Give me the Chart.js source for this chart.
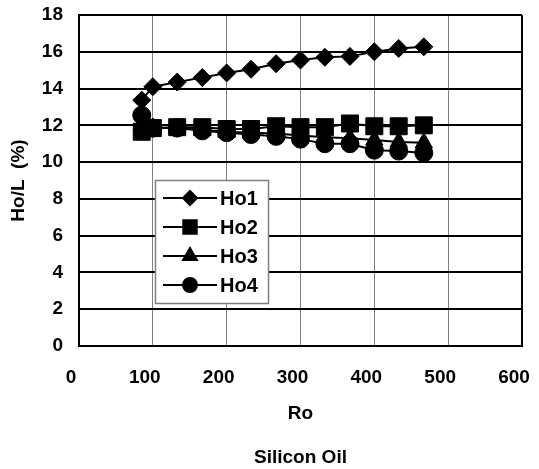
<!DOCTYPE html>
<html>
<head>
<meta charset="utf-8">
<script src="https://cdn.jsdelivr.net/npm/chart.js@4"></script>
<style>
  html, body { margin: 0; padding: 0; background: #fff; }
  canvas { display: block; }
</style>
</head>
<body>
<canvas id="c" width="539" height="469"></canvas>
<script>
// ---- data ----
const xValues = [85, 100, 133, 167, 200, 233, 267, 300, 333, 367, 400, 433, 467];
const ho1 = [13.37, 14.1, 14.35, 14.6, 14.85, 15.05, 15.35, 15.55, 15.7, 15.75, 16.0, 16.18, 16.27];
const ho2 = [11.65, 11.85, 11.9, 11.9, 11.8, 11.8, 11.95, 11.9, 11.9, 12.1, 11.95, 11.95, 12.0];
const ho3 = [12.0, 11.85, 11.85, 11.75, 11.65, 11.6, 11.55, 11.45, 11.35, 11.3, 11.2, 11.1, 11.05];
const ho4 = [12.55, 11.85, 11.85, 11.7, 11.6, 11.5, 11.4, 11.25, 11.0, 11.0, 10.65, 10.6, 10.5];
const seriesNames = ['Ho1', 'Ho2', 'Ho3', 'Ho4'];
const xTickValues = [0, 100, 200, 300, 400, 500, 600];
const yTickValues = [0, 2, 4, 6, 8, 10, 12, 14, 16, 18];
const xTitle = 'Ro';
const yTitle = 'Ho/L  (%)';
const chartTitle = 'Silicon Oil';

const FONT = "'Liberation Sans', Arial, sans-serif";
const styles = [
  { pointStyle: 'rectRot', radius: 9, legendRadius: 7 },
  { pointStyle: 'rect', radius: 12, legendRadius: 9.5 },
  { pointStyle: 'triangle', radius: 10, legendRadius: 8 },
  { pointStyle: 'circle', radius: 9, legendRadius: 7 }
];
const seriesValues = [ho1, ho2, ho3, ho4];

const datasets = seriesValues.map((vals, i) => ({
  label: seriesNames[i],
  data: xValues.map((x, j) => ({ x: x, y: vals[j] })),
  borderColor: '#000',
  backgroundColor: '#000',
  borderWidth: 2,
  pointStyle: styles[i].pointStyle,
  pointRadius: styles[i].radius,
  pointBorderWidth: 1,
  pointBorderColor: '#000',
  pointBackgroundColor: '#000',
  tension: 0,
  order: 3 - i
}));

const legendPlugin = {
  id: 'insideLegend',
  afterDraw(chart) {
    const ctx = chart.ctx;
    ctx.save();
    ctx.fillStyle = '#fff';
    ctx.fillRect(155.5, 180.5, 113, 123);
    ctx.strokeStyle = '#808080';
    ctx.lineWidth = 1.5;
    ctx.strokeRect(155.5, 180.5, 113, 123);
    chart.data.datasets.forEach((ds, i) => {
      const y = 198 + 29 * i;
      ctx.strokeStyle = '#000';
      ctx.lineWidth = 2;
      ctx.beginPath();
      ctx.moveTo(163, y);
      ctx.lineTo(217, y);
      ctx.stroke();
      ctx.fillStyle = '#000';
      Chart.helpers.drawPoint(ctx, {
        pointStyle: ds.pointStyle,
        rotation: 0,
        borderWidth: 1,
        radius: styles[i].legendRadius
      }, 190, y);
      ctx.fillStyle = '#000';
      ctx.font = "bold 20px " + FONT;
      ctx.textAlign = 'left';
      ctx.textBaseline = 'middle';
      ctx.fillText(ds.label, 220, y + 1);
    });
    ctx.restore();
  }
};

new Chart(document.getElementById('c'), {
  type: 'line',
  data: { datasets: datasets },
  options: {
    responsive: false,
    animation: false,
    events: [],
    layout: { padding: { top: 15, right: 17, left: 0, bottom: 0 } },
    plugins: {
      legend: { display: false },
      tooltip: { enabled: false },
      title: {
        display: true,
        text: chartTitle,
        position: 'bottom',
        fullSize: false,
        color: '#000',
        font: { family: FONT, size: 19, weight: 'bold' },
        padding: { top: 17.8, bottom: 0 }
      }
    },
    scales: {
      x: {
        type: 'linear',
        min: 0,
        max: 600,
        afterBuildTicks(scale) { scale.ticks = xTickValues.map(v => ({ value: v })); },
        afterFit(scale) { scale.height = 82.4; },
        ticks: {
          color: '#000',
          font: { family: FONT, size: 19, weight: 'bold' },
          padding: 0,
          labelOffset: -8,
          maxRotation: 0
        },
        grid: {
          drawTicks: true,
          tickLength: 20,
          tickColor: 'rgba(0,0,0,0)',
          color: (c) => (c.tick && c.tick.value === 600) ? '#000' : '#808080',
          lineWidth: (c) => (c.tick && c.tick.value === 600) ? 2 : 1
        },
        border: { color: '#000', width: 2 },
        title: {
          display: true,
          text: xTitle,
          color: '#000',
          font: { family: FONT, size: 19, weight: 'bold' },
          padding: 3
        }
      },
      y: {
        type: 'linear',
        min: 0,
        max: 18,
        afterBuildTicks(scale) { scale.ticks = yTickValues.map(v => ({ value: v })); },
        afterFit(scale) { scale.width = 79; },
        ticks: {
          color: '#000',
          font: { family: FONT, size: 19, weight: 'bold' },
          padding: 0
        },
        grid: {
          drawTicks: true,
          tickLength: 16,
          tickColor: 'rgba(0,0,0,0)',
          color: '#000',
          lineWidth: 2
        },
        border: { color: '#000', width: 2 },
        title: {
          display: true,
          text: yTitle,
          color: '#000',
          font: { family: FONT, size: 19, weight: 'bold' },
          padding: 7.6
        }
      }
    }
  },
  plugins: [legendPlugin]
});
</script>
</body>
</html>
